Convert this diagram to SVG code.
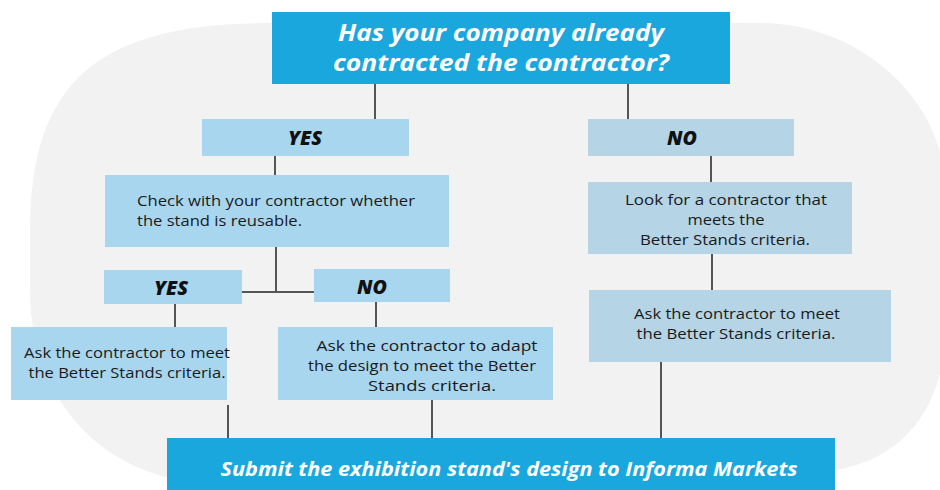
<svg xmlns="http://www.w3.org/2000/svg" width="940" height="490" viewBox="0 0 940 490">
<style>
.bg{fill:#f2f2f2}
.main{fill:#1aa7dd}
.lb{fill:#a9d6ef}
.gb{fill:#b5d4e6}
.title{font-family:"Open Sans","DejaVu Sans",sans-serif;font-weight:bold;font-style:italic;fill:#fff;text-anchor:middle}
.yn{font-family:"Open Sans","DejaVu Sans",sans-serif;font-weight:800;font-style:italic;font-size:20px;fill:#111;text-anchor:middle}
.body{font-family:"Open Sans","DejaVu Sans",sans-serif;font-size:14.6px;fill:#1a1a1a;text-anchor:middle}
.conn line{stroke:#555;stroke-width:2}
</style>
<rect width="940" height="490" fill="#fff"/>
<path class="bg" d="M270 23 L760 23 C860 23 945 100 945 190 L945 330 C945 410 900 460 835 470 L170 478 C90 460 30 390 30 290 L30 230 C30 80 100 23 270 23 Z"/>
<g class="conn">
<line x1="375" y1="84" x2="375" y2="120"/>
<line x1="628" y1="84" x2="628" y2="120"/>
<line x1="275" y1="156" x2="275" y2="176"/>
<line x1="276" y1="247" x2="276" y2="292"/>
<line x1="242" y1="292" x2="314" y2="292"/>
<line x1="175" y1="304" x2="175" y2="328"/>
<line x1="376" y1="302" x2="376" y2="328"/>
<line x1="711" y1="156" x2="711" y2="183"/>
<line x1="712" y1="254" x2="712" y2="291"/>
<line x1="661" y1="362" x2="661" y2="439"/>
<line x1="228" y1="405" x2="228" y2="439"/>
<line x1="432" y1="400" x2="432" y2="439"/>
</g>
<g id="q">
<rect class="main" x="272" y="12" width="458" height="72"/>
<text class="title" font-size="24" x="501" y="41" textLength="326" lengthAdjust="spacingAndGlyphs">Has your company already</text>
<text class="title" font-size="24" x="501" y="71" textLength="336" lengthAdjust="spacingAndGlyphs">contracted the contractor?</text>
</g>
<g id="yes1">
<rect class="lb" x="202" y="119" width="207" height="37"/>
<text class="yn" x="305" y="145" textLength="34" lengthAdjust="spacingAndGlyphs">YES</text>
</g>
<g id="no1">
<rect class="gb" x="588" y="119" width="206" height="37"/>
<text class="yn" x="682" y="145" textLength="30" lengthAdjust="spacingAndGlyphs">NO</text>
</g>
<g id="check">
<rect class="lb" x="105" y="175" width="344" height="72"/>
<text class="body" x="137" y="205.5" style="text-anchor:start" textLength="278" lengthAdjust="spacingAndGlyphs">Check with your contractor whether</text>
<text class="body" x="137" y="225.5" style="text-anchor:start" textLength="165" lengthAdjust="spacingAndGlyphs">the stand is reusable.</text>
</g>
<g id="yes2">
<rect class="lb" x="104" y="270" width="138" height="34"/>
<text class="yn" x="171" y="295" textLength="34" lengthAdjust="spacingAndGlyphs">YES</text>
</g>
<g id="no2">
<rect class="lb" x="314" y="269" width="136" height="33"/>
<text class="yn" x="372" y="294" textLength="30" lengthAdjust="spacingAndGlyphs">NO</text>
</g>
<g id="ask1">
<rect class="lb" x="11" y="327" width="216" height="73"/>
<text class="body" x="127" y="357.5" textLength="206" lengthAdjust="spacingAndGlyphs">Ask the contractor to meet</text>
<text class="body" x="127" y="377.5" textLength="197" lengthAdjust="spacingAndGlyphs">the Better Stands criteria.</text>
</g>
<g id="adapt">
<rect class="lb" x="278" y="327" width="275" height="73"/>
<text class="body" x="427" y="350.5" textLength="221" lengthAdjust="spacingAndGlyphs">Ask the contractor to adapt</text>
<text class="body" x="422" y="370.5" textLength="228" lengthAdjust="spacingAndGlyphs">the design to meet the Better</text>
<text class="body" x="432" y="390.5" textLength="128" lengthAdjust="spacingAndGlyphs">Stands criteria.</text>
</g>
<g id="look">
<rect class="gb" x="588" y="182" width="264" height="72"/>
<text class="body" x="726" y="204.5" textLength="202" lengthAdjust="spacingAndGlyphs">Look for a contractor that</text>
<text class="body" x="726" y="224.5" textLength="77" lengthAdjust="spacingAndGlyphs">meets the</text>
<text class="body" x="725" y="244.5" textLength="170" lengthAdjust="spacingAndGlyphs">Better Stands criteria.</text>
</g>
<g id="ask2">
<rect class="gb" x="589" y="290" width="302" height="72"/>
<text class="body" x="737" y="318.5" textLength="206" lengthAdjust="spacingAndGlyphs">Ask the contractor to meet</text>
<text class="body" x="736" y="338.5" textLength="199" lengthAdjust="spacingAndGlyphs">the Better Stands criteria.</text>
</g>
<g id="submit">
<rect class="main" x="167" y="438" width="668" height="52"/>
<text class="title" font-size="19" x="509" y="476" textLength="577" lengthAdjust="spacingAndGlyphs">Submit the exhibition stand's design to Informa Markets</text>
</g>
</svg>
